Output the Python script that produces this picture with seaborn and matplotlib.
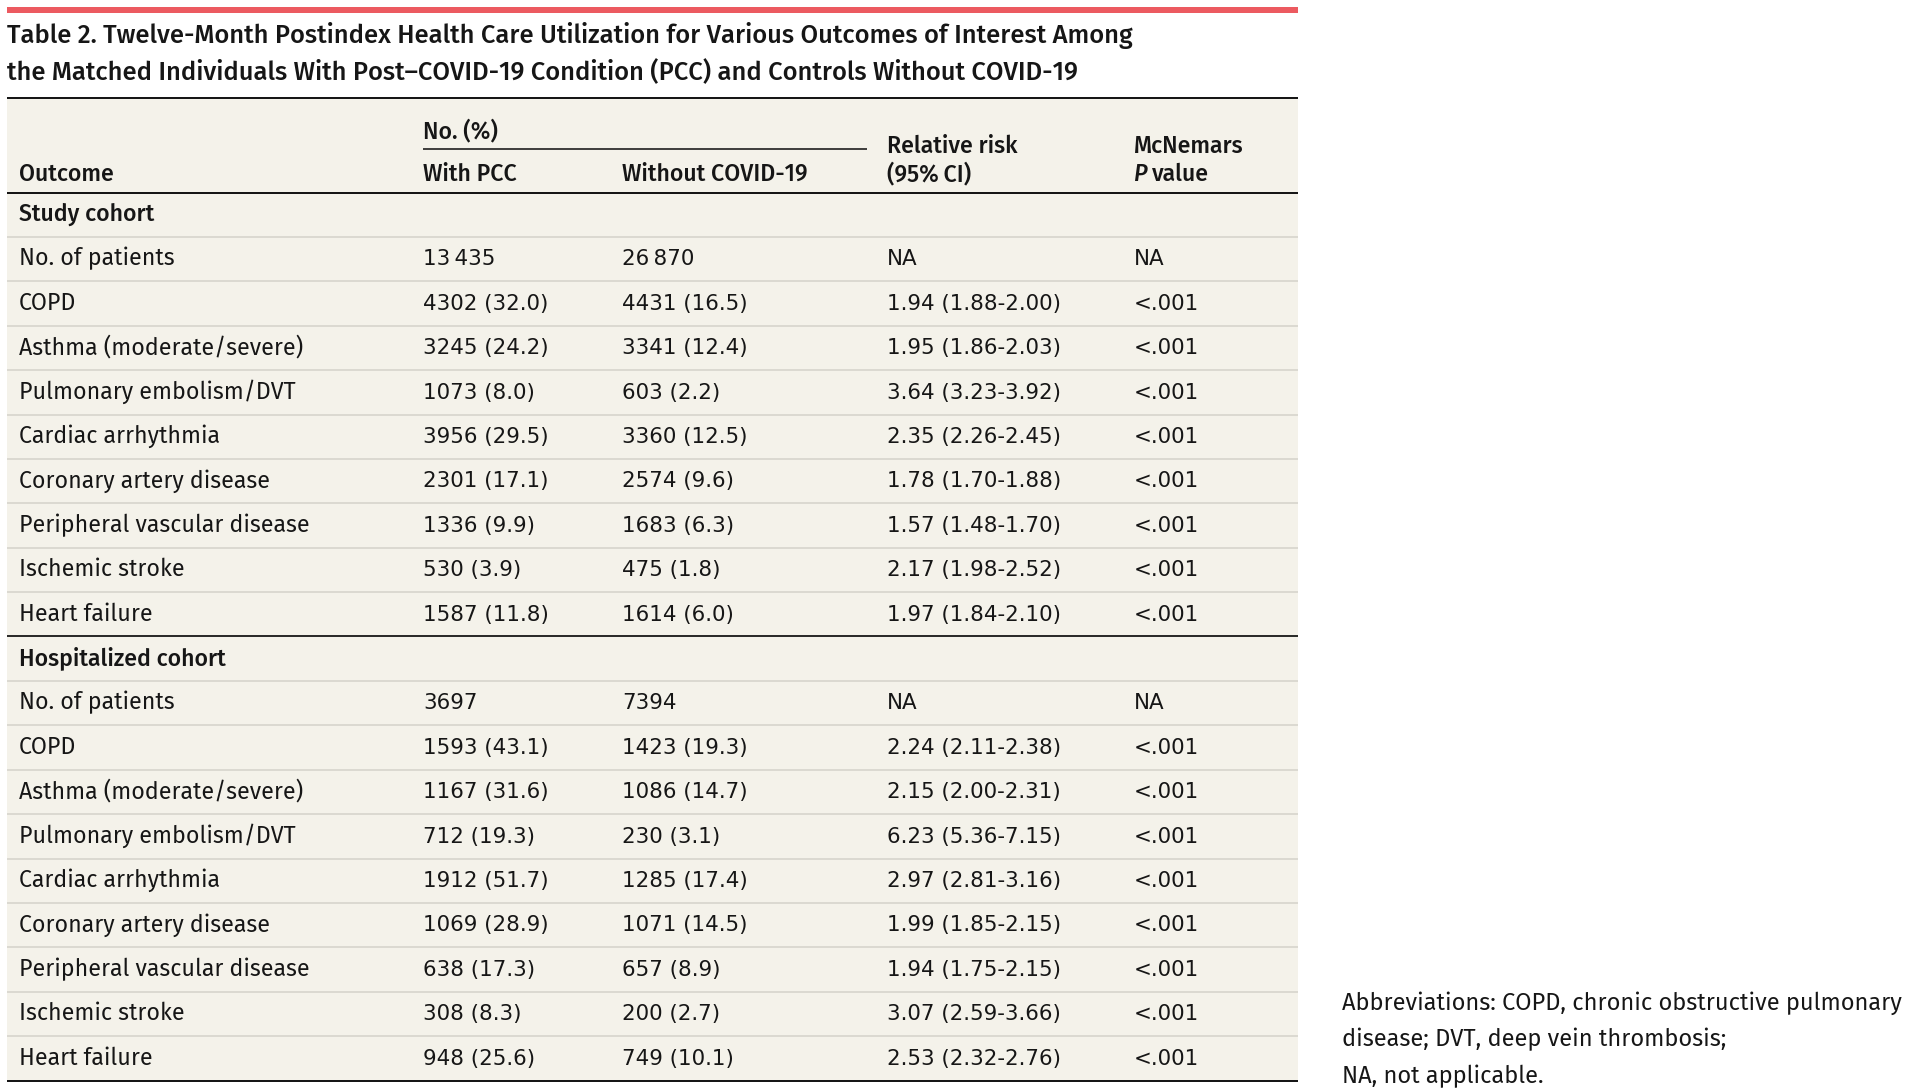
import numpy as np
import seaborn as sns
import matplotlib
matplotlib.use("Agg")
import matplotlib.pyplot as plt
from matplotlib.colors import ListedColormap

# ---- table content ----
title_lines = [
    "Table 2. Twelve-Month Postindex Health Care Utilization for Various Outcomes of Interest Among",
    "the Matched Individuals With Post\u2013COVID-19 Condition (PCC) and Controls Without COVID-19",
]
outcomes = ["No. of patients", "COPD", "Asthma (moderate/severe)", "Pulmonary embolism/DVT",
            "Cardiac arrhythmia", "Coronary artery disease", "Peripheral vascular disease",
            "Ischemic stroke", "Heart failure"]
cohorts = ["Study cohort", "Hospitalized cohort"]

study_pcc_n = [13435, 4302, 3245, 1073, 3956, 2301, 1336, 530, 1587]
study_pcc_pct = [None, 32.0, 24.2, 8.0, 29.5, 17.1, 9.9, 3.9, 11.8]
study_ctl_n = [26870, 4431, 3341, 603, 3360, 2574, 1683, 475, 1614]
study_ctl_pct = [None, 16.5, 12.4, 2.2, 12.5, 9.6, 6.3, 1.8, 6.0]
study_rr = [None, 1.94, 1.95, 3.64, 2.35, 1.78, 1.57, 2.17, 1.97]
study_lo = [None, 1.88, 1.86, 3.23, 2.26, 1.70, 1.48, 1.98, 1.84]
study_hi = [None, 2.00, 2.03, 3.92, 2.45, 1.88, 1.70, 2.52, 2.10]
study_p = ["NA"] + ["<.001"] * 8

hosp_pcc_n = [3697, 1593, 1167, 712, 1912, 1069, 638, 308, 948]
hosp_pcc_pct = [None, 43.1, 31.6, 19.3, 51.7, 28.9, 17.3, 8.3, 25.6]
hosp_ctl_n = [7394, 1423, 1086, 230, 1285, 1071, 657, 200, 749]
hosp_ctl_pct = [None, 19.3, 14.7, 3.1, 17.4, 14.5, 8.9, 2.7, 10.1]
hosp_rr = [None, 2.24, 2.15, 6.23, 2.97, 1.99, 1.94, 3.07, 2.53]
hosp_lo = [None, 2.11, 2.00, 5.36, 2.81, 1.85, 1.75, 2.59, 2.32]
hosp_hi = [None, 2.38, 2.31, 7.15, 3.16, 2.15, 2.15, 3.66, 2.76]
hosp_p = ["NA"] + ["<.001"] * 8

footnote = ["Abbreviations: COPD, chronic obstructive pulmonary",
            "disease; DVT, deep vein thrombosis;",
            "NA, not applicable."]


def fmt_n(n, pct):
    s = str(n) if n < 10000 else f"{n // 1000}\u2009{n % 1000:03d}"
    return s if pct is None else f"{s} ({pct:.1f})"


def fmt_rr(rr, lo, hi):
    return "NA" if rr is None else f"{rr:.2f} ({lo:.2f}-{hi:.2f})"


rows = []
for name, pn, pp, cn, cp, rr, lo, hi, p in [
        (cohorts[0], study_pcc_n, study_pcc_pct, study_ctl_n, study_ctl_pct, study_rr, study_lo, study_hi, study_p),
        (cohorts[1], hosp_pcc_n, hosp_pcc_pct, hosp_ctl_n, hosp_ctl_pct, hosp_rr, hosp_lo, hosp_hi, hosp_p)]:
    rows.append((name, "", "", "", "", True))
    for i, o in enumerate(outcomes):
        rows.append((o, fmt_n(pn[i], pp[i]), fmt_n(cn[i], cp[i]), fmt_rr(rr[i], lo[i], hi[i]), p[i], False))

# ---- style ----
sns.set_theme(style="white")
body_font = ["Fira Sans", "Roboto", "DejaVu Sans"]
num_font = ["DejaVu Sans"]  # wide figures like the reference
plt.rcParams["font.family"] = body_font
beige = "#f4f2ea"
sep_gray = "#d3d1c9"
ink = "#161616"

W, H = 1920, 1090
fig = plt.figure(figsize=(W / 100, H / 100), dpi=100)

tab_left, tab_right = 7, 1298
tab_top, head_bot = 98, 192.5
row_h = 44.4
tab_bot = head_bot + row_h * len(rows)

# beige background through seaborn
bg = fig.add_axes([tab_left / W, 1 - tab_bot / H, (tab_right - tab_left) / W, (tab_bot - tab_top) / H])
sns.heatmap(np.zeros((len(rows) + 2, 1)), cmap=ListedColormap([beige]), cbar=False,
            xticklabels=False, yticklabels=False, ax=bg)
bg.axis("off")

ax = fig.add_axes([0, 0, 1, 1], facecolor="none")
ax.set_xlim(0, W)
ax.set_ylim(H, 0)
ax.axis("off")

px = 0.72  # pixel -> points

# red rule and title
ax.hlines(10, tab_left, tab_right, color="#ec5a60", lw=6 * px)
for k, line in enumerate(title_lines):
    ax.text(tab_left, 43 + 37 * k, line, weight=500, fontsize=18.4,
            color=ink, va="baseline", ha="left")

# header
col_x = [19, 423, 622, 887, 1134]
hfs = 16.7
hw = 500
ax.hlines(tab_top, tab_left, tab_right, color=ink, lw=2 * px)
ax.text(col_x[1], 138, "No. (%)", fontsize=hfs, weight=hw, color=ink, va="baseline")
ax.hlines(148.5, col_x[1], 867, color=ink, lw=1.6 * px)
ax.text(col_x[0], 181, "Outcome", fontsize=hfs, weight=hw, color=ink, va="baseline")
ax.text(col_x[1], 181, "With PCC", fontsize=hfs, weight=hw, color=ink, va="baseline")
ax.text(col_x[2], 181, "Without COVID-19", fontsize=hfs, weight=hw, color=ink, va="baseline")
ax.text(col_x[3], 153, "Relative risk", fontsize=hfs, weight=hw, color=ink, va="baseline")
ax.text(col_x[3], 181, "(95%\u2009CI)", fontsize=hfs, weight=hw, color=ink, va="baseline")
ax.text(col_x[4], 153, "McNemars", fontsize=hfs, weight=hw, color=ink, va="baseline")
p_txt = ax.text(col_x[4], 181, "P", fontsize=hfs, weight=hw, style="italic", color=ink, va="baseline")
renderer = fig.canvas.get_renderer()
p_w = p_txt.get_window_extent(renderer).width
ax.text(col_x[4] + p_w + 4, 181, "value", fontsize=hfs, weight=hw, color=ink, va="baseline")
ax.hlines(head_bot, tab_left, tab_right, color=ink, lw=2 * px)

# body rows
bfs = 16.7
nfs = 15.4
for i, (label, a, b, c, d, is_cohort) in enumerate(rows):
    top = head_bot + i * row_h
    base = top + 28.5
    ax.text(col_x[0], base, label, fontsize=bfs, weight=500 if is_cohort else 400,
            color=ink, va="baseline")
    for x, s in zip(col_x[1:], (a, b, c, d)):
        ax.text(x, base, s, family=num_font, fontsize=nfs, weight="normal", color=ink, va="baseline")
    bottom = top + row_h
    if i == len(rows) - 1:
        ax.hlines(bottom, tab_left, tab_right, color=ink, lw=2 * px)
    elif rows[i + 1][5]:
        ax.hlines(bottom, tab_left, tab_right, color=ink, lw=1.8 * px)
    else:
        ax.hlines(bottom, tab_left, tab_right, color=sep_gray, lw=1.5 * px)

# footnote
for k, line in enumerate(footnote):
    ax.text(1342, 1010 + 36.5 * k, line, weight=400, fontsize=17.0,
            color=ink, va="baseline")

fig.savefig("out.png", dpi=100, facecolor="white")
